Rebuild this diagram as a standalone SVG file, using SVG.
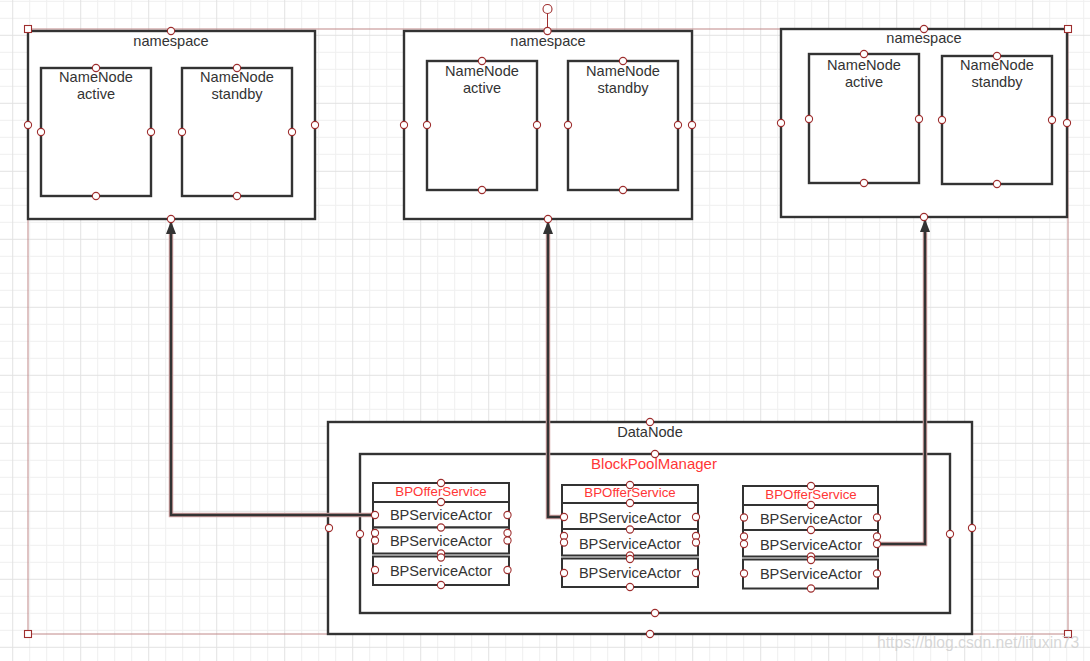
<svg xmlns="http://www.w3.org/2000/svg" width="1090" height="661" viewBox="0 0 1090 661">
<defs>
<style>
.box{fill:#fff;stroke:#333;stroke-width:2.4}
.row{fill:#fff;stroke:#333;stroke-width:2}
.t{font-family:"Liberation Sans",Arial,sans-serif;font-size:14.6px;fill:#333;text-anchor:middle}
.r{font-family:"Liberation Sans",Arial,sans-serif;font-size:13.3px;fill:#ff3636;text-anchor:middle}
.rb{font-family:"Liberation Sans",Arial,sans-serif;font-size:15px;fill:#ff3636;text-anchor:middle}
.h{fill:#fff;stroke:#9e2e2e;stroke-width:1.1}
.halo{fill:none;stroke:#d2a0a0;stroke-width:4.5}
.line{fill:none;stroke:#333;stroke-width:2.5}
</style>
<pattern id="grid" patternUnits="userSpaceOnUse" x="12.2" y="34.8" width="68" height="68">
<path d="M17.5,0V68M34.5,0V68M51.5,0V68M0,17.5H68M0,34.5H68M0,51.5H68" stroke="#efefef" stroke-width="1" fill="none"/>
<path d="M0.5,0V68M0,0.5H68" stroke="#e2e2e2" stroke-width="1" fill="none"/>
</pattern>
<marker id="arrow" viewBox="0 0 13 10" refX="13" refY="5" markerWidth="13" markerHeight="10" markerUnits="userSpaceOnUse" orient="auto">
<path d="M0,0 L13,5 L0,10 z" fill="#333"/>
</marker>
</defs>
<rect x="0" y="0" width="1090" height="661" fill="#fff"/>
<rect x="0" y="0" width="1090" height="661" fill="url(#grid)"/>

<rect x="28" y="29" width="1040" height="605" fill="none" stroke="#c08888" stroke-width="1"/>

<g id="namespace1">
<rect class="box" x="28" y="31" width="287" height="188"/>
<text class="t" x="171" y="46">namespace</text>
</g>
<g id="namenode1-active">
<rect class="box" x="41" y="68" width="110" height="128"/>
<text class="t" x="96" y="82">NameNode<tspan x="96" dy="17">active</tspan></text>
</g>
<g id="namenode1-standby">
<rect class="box" x="182" y="68" width="110" height="128"/>
<text class="t" x="237" y="82">NameNode<tspan x="237" dy="17">standby</tspan></text>
</g>

<g id="namespace2">
<rect class="box" x="404" y="31" width="288" height="188"/>
<text class="t" x="548" y="46">namespace</text>
</g>
<g id="namenode2-active">
<rect class="box" x="427" y="61" width="110" height="129"/>
<text class="t" x="482" y="76">NameNode<tspan x="482" dy="17">active</tspan></text>
</g>
<g id="namenode2-standby">
<rect class="box" x="568" y="61" width="110" height="129"/>
<text class="t" x="623" y="76">NameNode<tspan x="623" dy="17">standby</tspan></text>
</g>

<g id="namespace3">
<rect class="box" x="781" y="29" width="286" height="188"/>
<text class="t" x="924" y="43">namespace</text>
</g>
<g id="namenode3-active">
<rect class="box" x="809" y="54" width="110" height="129"/>
<text class="t" x="864" y="70">NameNode<tspan x="864" dy="17">active</tspan></text>
</g>
<g id="namenode3-standby">
<rect class="box" x="942" y="56" width="110" height="128"/>
<text class="t" x="997" y="70">NameNode<tspan x="997" dy="17">standby</tspan></text>
</g>

<g id="datanode">
<rect class="box" x="328" y="422" width="644" height="212"/>
<text class="t" x="650" y="437">DataNode</text>
</g>
<g id="blockpoolmanager">
<rect class="box" x="360" y="454" width="590" height="159"/>
<text class="rb" x="654" y="469">BlockPoolManager</text>
</g>

<g id="bpofferservice1">
<rect class="row" x="373" y="483" width="136" height="19"/>
<text class="r" x="441" y="496">BPOfferService</text>
</g>
<g id="bpserviceactor1-1">
<rect class="row" x="373" y="502" width="136" height="25.5"/>
<text class="t" x="441" y="520">BPServiceActor</text>
</g>
<g id="bpserviceactor1-2">
<rect class="row" x="373" y="527.5" width="136" height="26"/>
<text class="t" x="441" y="546">BPServiceActor</text>
</g>
<g id="bpserviceactor1-3">
<rect class="row" x="373" y="556.5" width="136" height="28.5"/>
<text class="t" x="441" y="576">BPServiceActor</text>
</g>

<g id="bpofferservice2">
<rect class="row" x="562" y="485" width="136" height="18"/>
<text class="r" x="630" y="497">BPOfferService</text>
</g>
<g id="bpserviceactor2-1">
<rect class="row" x="562" y="503" width="136" height="26"/>
<text class="t" x="630" y="523">BPServiceActor</text>
</g>
<g id="bpserviceactor2-2">
<rect class="row" x="562" y="529" width="136" height="26.5"/>
<text class="t" x="630" y="549">BPServiceActor</text>
</g>
<g id="bpserviceactor2-3">
<rect class="row" x="562" y="558.5" width="136" height="28.5"/>
<text class="t" x="630" y="578">BPServiceActor</text>
</g>

<g id="bpofferservice3">
<rect class="row" x="743" y="486" width="135" height="19"/>
<text class="r" x="811" y="499">BPOfferService</text>
</g>
<g id="bpserviceactor3-1">
<rect class="row" x="743" y="505" width="135" height="25"/>
<text class="t" x="811" y="524">BPServiceActor</text>
</g>
<g id="bpserviceactor3-2">
<rect class="row" x="743" y="530" width="135" height="26.5"/>
<text class="t" x="811" y="550">BPServiceActor</text>
</g>
<g id="bpserviceactor3-3">
<rect class="row" x="743" y="559.5" width="135" height="29"/>
<text class="t" x="811" y="579">BPServiceActor</text>
</g>

<g id="connectors">
<path class="halo" d="M375,515 H171 V234"/>
<path class="halo" d="M564,517 H548 V234"/>
<path class="halo" d="M877,544 H925 V232"/>
<path class="line" d="M375,515 H171 V221" marker-end="url(#arrow)"/>
<path class="line" d="M564,517 H548 V221" marker-end="url(#arrow)"/>
<path class="line" d="M877,544 H925 V219" marker-end="url(#arrow)"/>
</g>

<g id="selection-handles">
<line x1="547.5" y1="13.5" x2="547.5" y2="29" stroke="#9e2e2e" stroke-width="1"/>
<circle class="h" cx="547.5" cy="9" r="4.5"/>
<rect class="h" x="24.5" y="25.5" width="7" height="7"/>
<rect class="h" x="1064.5" y="25.5" width="7" height="7"/>
<rect class="h" x="24.5" y="630.5" width="7" height="7"/>
<rect class="h" x="1064.5" y="630.5" width="7" height="7"/>
<circle class="h" cx="171" cy="31" r="3.6"/><circle class="h" cx="28" cy="125" r="3.6"/><circle class="h" cx="315" cy="125" r="3.6"/><circle class="h" cx="171" cy="219" r="3.6"/>
<circle class="h" cx="96" cy="68" r="3.6"/><circle class="h" cx="41" cy="132" r="3.6"/><circle class="h" cx="151" cy="132" r="3.6"/><circle class="h" cx="96" cy="196" r="3.6"/>
<circle class="h" cx="237" cy="68" r="3.6"/><circle class="h" cx="182" cy="132" r="3.6"/><circle class="h" cx="292" cy="132" r="3.6"/><circle class="h" cx="237" cy="196" r="3.6"/>
<circle class="h" cx="547.5" cy="31" r="3.6"/><circle class="h" cx="404" cy="125" r="3.6"/><circle class="h" cx="692" cy="125" r="3.6"/><circle class="h" cx="548" cy="219" r="3.6"/>
<circle class="h" cx="482" cy="61" r="3.6"/><circle class="h" cx="427" cy="125" r="3.6"/><circle class="h" cx="537" cy="125" r="3.6"/><circle class="h" cx="482" cy="190" r="3.6"/>
<circle class="h" cx="623" cy="61" r="3.6"/><circle class="h" cx="568" cy="125" r="3.6"/><circle class="h" cx="678" cy="125" r="3.6"/><circle class="h" cx="623" cy="190" r="3.6"/>
<circle class="h" cx="924" cy="29" r="3.6"/><circle class="h" cx="781" cy="123" r="3.6"/><circle class="h" cx="1067" cy="123" r="3.6"/><circle class="h" cx="924" cy="217" r="3.6"/>
<circle class="h" cx="864" cy="54" r="3.6"/><circle class="h" cx="809" cy="119" r="3.6"/><circle class="h" cx="919" cy="119" r="3.6"/><circle class="h" cx="864" cy="183" r="3.6"/>
<circle class="h" cx="997" cy="56" r="3.6"/><circle class="h" cx="942" cy="120" r="3.6"/><circle class="h" cx="1052" cy="120" r="3.6"/><circle class="h" cx="997" cy="184" r="3.6"/>
<circle class="h" cx="650" cy="422" r="3.6"/><circle class="h" cx="329" cy="528" r="3.6"/><circle class="h" cx="972" cy="528" r="3.6"/><circle class="h" cx="650" cy="634" r="3.6"/>
<circle class="h" cx="655" cy="454" r="3.6"/><circle class="h" cx="360" cy="534" r="3.6"/><circle class="h" cx="950" cy="534" r="3.6"/><circle class="h" cx="655" cy="613" r="3.6"/>
<circle class="h" cx="441" cy="483" r="3.6"/><circle class="h" cx="441" cy="502" r="3.6"/><circle class="h" cx="375" cy="515" r="3.6"/><circle class="h" cx="507.5" cy="515" r="3.6"/>
<circle class="h" cx="441" cy="527.5" r="3.6"/><circle class="h" cx="375" cy="533" r="3.6"/><circle class="h" cx="375" cy="540.5" r="3.6"/><circle class="h" cx="507.5" cy="533" r="3.6"/><circle class="h" cx="507.5" cy="540.5" r="3.6"/>
<circle class="h" cx="441" cy="553.5" r="3.6"/><circle class="h" cx="441" cy="557.5" r="3.6"/><circle class="h" cx="375" cy="570" r="3.6"/><circle class="h" cx="507.5" cy="570" r="3.6"/><circle class="h" cx="441" cy="585" r="3.6"/>
<circle class="h" cx="630" cy="485" r="3.6"/><circle class="h" cx="630" cy="503" r="3.6"/><circle class="h" cx="564" cy="517" r="3.6"/><circle class="h" cx="696" cy="517" r="3.6"/>
<circle class="h" cx="630" cy="529.5" r="3.6"/><circle class="h" cx="564" cy="536" r="3.6"/><circle class="h" cx="564" cy="542.5" r="3.6"/><circle class="h" cx="696" cy="536" r="3.6"/><circle class="h" cx="696" cy="542.5" r="3.6"/>
<circle class="h" cx="630" cy="555.5" r="3.6"/><circle class="h" cx="630" cy="559" r="3.6"/><circle class="h" cx="564" cy="573" r="3.6"/><circle class="h" cx="696" cy="573" r="3.6"/><circle class="h" cx="630" cy="587" r="3.6"/>
<circle class="h" cx="811" cy="486" r="3.6"/><circle class="h" cx="811" cy="505" r="3.6"/><circle class="h" cx="744" cy="517.5" r="3.6"/><circle class="h" cx="877" cy="517.5" r="3.6"/>
<circle class="h" cx="811" cy="530" r="3.6"/><circle class="h" cx="744" cy="536.5" r="3.6"/><circle class="h" cx="744" cy="544" r="3.6"/><circle class="h" cx="877" cy="536.5" r="3.6"/><circle class="h" cx="877" cy="544" r="3.6"/>
<circle class="h" cx="811" cy="556.5" r="3.6"/><circle class="h" cx="811" cy="560" r="3.6"/><circle class="h" cx="744" cy="573.5" r="3.6"/><circle class="h" cx="877" cy="573.5" r="3.6"/><circle class="h" cx="811" cy="588.5" r="3.6"/>
</g>

<text x="877" y="648" font-family="'Liberation Sans',Arial,sans-serif" font-size="15.7" fill="#d0d0d0" fill-opacity="0.85">https://blog.csdn.net/lifuxin73</text>
</svg>
